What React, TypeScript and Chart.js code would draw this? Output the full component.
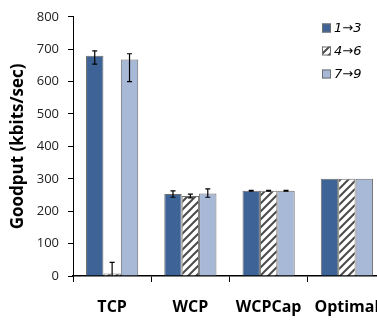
import React, { useEffect, useRef } from "react";
import { Chart, registerables } from "chart.js";

Chart.register(...registerables);

const categories = ["TCP", "WCP", "WCPCap", "Optimal"];
const seriesLabels = ["1\u21923", "4\u21926", "7\u21929"];
const series13 = [680, 253, 263, 300];
const series46 = [8, 247, 263, 300];
const series79 = [668, 255, 263, 300];
const errPlus13 = [15, 10, 1, 0];
const errMinus13 = [26, 10, 1, 0];
const errPlus46 = [34, 6, 1, 0];
const errMinus46 = [34, 6, 1, 0];
const errPlus79 = [18, 14, 1, 0];
const errMinus79 = [68, 12, 1, 0];
const yTicks = [0, 100, 200, 300, 400, 500, 600, 700, 800];

const DARK = "#3e6497";
const LIGHT = "#a8b8d7";
const BORDER = "#6e6e6e";
const FONT = "'Open Sans', sans-serif";

function makeHatch(): CanvasPattern | string {
  const c = document.createElement("canvas");
  const s = 8;
  c.width = s;
  c.height = s;
  const g = c.getContext("2d");
  if (!g) return "#fff";
  g.fillStyle = "#ffffff";
  g.fillRect(0, 0, s, s);
  g.strokeStyle = "#4a4a4a";
  g.lineWidth = 2;
  g.beginPath();
  g.moveTo(-1, s + 1);
  g.lineTo(s + 1, -1);
  g.moveTo(-1, 1);
  g.lineTo(1, -1);
  g.moveTo(s - 1, s + 1);
  g.lineTo(s + 1, s - 1);
  g.stroke();
  const p = g.createPattern(c, "repeat");
  return p || "#fff";
}

const errorBarPlugin = {
  id: "errorBars",
  afterDatasetsDraw(chart: any) {
    const ctx = chart.ctx;
    const y = chart.scales.y;
    const area = chart.chartArea;
    ctx.save();
    ctx.beginPath();
    ctx.rect(area.left, area.top, area.right - area.left, area.bottom - area.top);
    ctx.clip();
    ctx.strokeStyle = "#000";
    ctx.lineWidth = 1.2;
    chart.data.datasets.forEach((ds: any, di: number) => {
      const meta = chart.getDatasetMeta(di);
      meta.data.forEach((bar: any, i: number) => {
        const v = ds.data[i];
        const up = ds.errPlus[i];
        const dn = ds.errMinus[i];
        if (!up && !dn) return;
        const x = bar.x;
        const yt = y.getPixelForValue(v + up);
        const yb = y.getPixelForValue(v - dn);
        ctx.beginPath();
        ctx.moveTo(x, yt);
        ctx.lineTo(x, yb);
        ctx.moveTo(x - 2.5, yt);
        ctx.lineTo(x + 2.5, yt);
        ctx.moveTo(x - 2.5, yb);
        ctx.lineTo(x + 2.5, yb);
        ctx.stroke();
      });
    });
    ctx.restore();
  },
};

const legendPlugin = {
  id: "customLegend",
  afterDraw(chart: any) {
    const ctx = chart.ctx;
    ctx.save();
    const ys = [28, 51, 74];
    chart.data.datasets.forEach((ds: any, i: number) => {
      const yc = ys[i];
      ctx.fillStyle = ds.backgroundColor;
      ctx.fillRect(322, yc - 4.5, 9, 9);
      ctx.strokeStyle = BORDER;
      ctx.lineWidth = 1;
      ctx.strokeRect(322.5, yc - 4, 8, 8);
      ctx.fillStyle = "#000";
      ctx.font = `oblique 13px 'DejaVu Sans', sans-serif`;
      ctx.textBaseline = "middle";
      ctx.textAlign = "left";
      ctx.fillText(ds.label, 334, yc + 0.5);
    });
    ctx.restore();
  },
};

export default function App() {
  const ref = useRef<HTMLCanvasElement | null>(null);
  useEffect(() => {
    document.body.style.margin = "0";
    document.body.style.overflow = "hidden";
    if (!ref.current) return;
    const hatch = makeHatch();
    const chart = new Chart(ref.current, {
      type: "bar",
      data: {
        labels: categories,
        datasets: [
          { label: seriesLabels[0], data: series13, backgroundColor: DARK, errPlus: errPlus13, errMinus: errMinus13 } as any,
          { label: seriesLabels[1], data: series46, backgroundColor: hatch, errPlus: errPlus46, errMinus: errMinus46 } as any,
          { label: seriesLabels[2], data: series79, backgroundColor: LIGHT, errPlus: errPlus79, errMinus: errMinus79 } as any,
        ],
      },
      options: {
        animation: false,
        responsive: false,
        maintainAspectRatio: false,
        layout: { padding: { top: 11.5, right: 14, left: 0, bottom: 0 } },
        datasets: {
          bar: {
            categoryPercentage: 0.667,
            barPercentage: 1,
            borderColor: BORDER,
            borderWidth: 1,
          },
        },
        plugins: {
          legend: { display: false },
          tooltip: { enabled: false },
        },
        scales: {
          x: {
            grid: { display: true, drawOnChartArea: false, tickLength: 6, color: "#000", offset: true },
            border: { color: "#000", width: 1.5 },
            ticks: { font: { family: FONT, size: 16, weight: "bold" }, color: "#000", padding: 16, maxRotation: 0, autoSkip: false },
            afterFit(scale: any) {
              scale.height = 44;
            },
          },
          y: {
            min: 0,
            max: 800,
            afterBuildTicks(scale: any) {
              scale.ticks = yTicks.map((v) => ({ value: v }));
            },
            grid: { display: true, drawOnChartArea: false, tickLength: 5, color: "#000" },
            border: { color: "#000", width: 1 },
            ticks: { font: { family: FONT, size: 13 }, color: "#222", padding: 9 },
            title: {
              display: true,
              text: "Goodput (kbits/sec)",
              font: { family: FONT, size: 17, weight: "bold" },
              color: "#000",
              padding: { top: 8, bottom: 0 },
            },
            afterFit(scale: any) {
              scale.width = 73;
            },
          },
        },
      },
      plugins: [errorBarPlugin, legendPlugin],
    } as any);
    return () => chart.destroy();
  }, []);
  return (
    <div style={{ width: 377, height: 320, overflow: "hidden", position: "relative", background: "#fff" }}>
      <canvas ref={ref} width={400} height={320} style={{ display: "block", width: 400, height: 320 }} />
    </div>
  );
}
